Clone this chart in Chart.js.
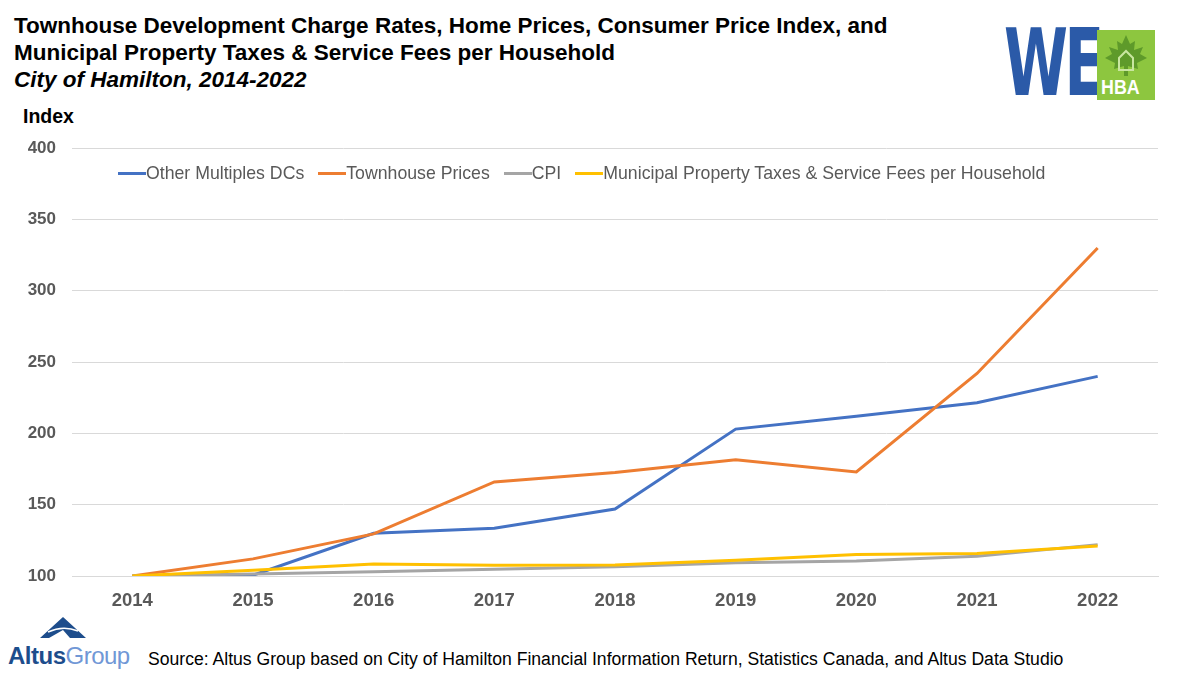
<!DOCTYPE html>
<html>
<head>
<meta charset="utf-8">
<script src="https://cdn.jsdelivr.net/npm/chart.js"></script>
<style>
    body { margin: 0; width: 1200px; height: 678px; background: #fff; font-family: "Liberation Sans", Arial, sans-serif; position: relative; overflow: hidden; }
    .title { position: absolute; left: 14px; top: 12px; font-size: 22.5px; font-weight: bold; line-height: 27px; color: #000; }
    .title i { font-weight: bold; }
    .unit { position: absolute; left: 23px; top: 105px; font-size: 19.5px; font-weight: bold; color: #000; }
    #chartWrap { position: absolute; left: 0; top: 122px; width: 1200px; height: 494px; }
    #legend { position: absolute; left: 118px; top: 163px; display: flex; font-size: 17.7px; color: #595959; }
    #legend .item { display: flex; align-items: center; margin-right: 14px; }
    #legend .mark { width: 28px; height: 3px; }
    .source { position: absolute; left: 148px; top: 649px; font-size: 17.6px; color: #000; }
    .we { position: absolute; left: 1004px; top: 18px; font-size: 92px; font-weight: 900; color: #2b5aa8; transform: scaleX(0.7); transform-origin: left top; letter-spacing: -5px; line-height: 92px; font-family: "DejaVu Sans Condensed", "Liberation Sans", sans-serif; }
    .hba { position: absolute; left: 1097px; top: 30px; width: 58px; height: 70px; background: #8dc63f; }
    .hba span { position: absolute; left: 4px; bottom: 1px; font-size: 21px; font-weight: bold; color: #fff; transform: scaleX(0.85); transform-origin: left bottom; }
    .altus { position: absolute; left: 8px; top: 642px; font-size: 24px; font-weight: bold; color: #1d4d8c; letter-spacing: -0.5px; }
    .altus span { color: #7097d6; font-weight: normal; }
</style>
</head>
<body>
<div class="title">Townhouse Development Charge Rates, Home Prices, Consumer Price Index, and<br>Municipal Property Taxes &amp; Service Fees per Household<br><i>City of Hamilton, 2014-2022</i></div>
<div class="unit">Index</div>

<div class="we">WE</div>
<div class="hba">
    <svg width="58" height="46" viewBox="0 0 58 46" style="position:absolute;left:0;top:2px">
        <path d="M29 3 L33 12 L38 9 L37 18 L46 15 L43 22 L50 26 L40 31 L41 37 L31 34 L31 44 L27 44 L27 34 L17 37 L18 31 L8 26 L15 22 L12 15 L21 18 L20 9 L25 12 Z" fill="#5e9a2a"/>
        <path d="M22 38 L22 26 L29 19 L36 26 L36 38 Z" fill="none" stroke="#c9e6a0" stroke-width="2"/>
    </svg>
    <span>HBA</span>
</div>

<div id="chartWrap"><canvas id="lineChart"></canvas></div>
<div id="legend"></div>

<svg style="position:absolute;left:40px;top:617px" width="46" height="22" viewBox="0 0 46 22">
    <path d="M23 0 L46 21 L30 21 L23 13 L9 21 L0 21 Z" fill="#1d4d8c"/>
    <path d="M8 15 Q23 8 38 14" stroke="#fff" stroke-width="1.5" fill="none"/>
</svg>
<div class="altus">Altus<span>Group</span></div>
<div class="source">Source: Altus Group based on City of Hamilton Financial Information Return, Statistics Canada, and Altus Data Studio</div>

<script>
// Index values (2014 = 100)
const years = ['2014', '2015', '2016', '2017', '2018', '2019', '2020', '2021', '2022'];
const otherMultiplesDCs = [100, 100.5, 130, 133.5, 147, 203, 212, 221.5, 240];
const townhousePrices = [100, 112, 129.5, 166, 172.5, 181.5, 173, 242, 330];
const cpi = [100, 101.4, 103, 104.7, 106.5, 109.3, 110.5, 113.8, 122];
const municipalTaxesFees = [100, 104, 108.4, 107.5, 107.7, 111, 115, 115.8, 121];

const seriesNames = ['Other Multiples DCs', 'Townhouse Prices', 'CPI', 'Municipal Property Taxes & Service Fees per Household'];
const seriesColors = ['#4472c4', '#ed7d31', '#a5a5a5', '#ffc000'];
const seriesValues = [otherMultiplesDCs, townhousePrices, cpi, municipalTaxesFees];

// HTML legend (sits inside the plot area, like the original)
const legendEl = document.getElementById('legend');
seriesNames.forEach(function(name, i) {
    const item = document.createElement('div');
    item.className = 'item';
    const mark = document.createElement('div');
    mark.className = 'mark';
    mark.style.background = seriesColors[i];
    const label = document.createElement('span');
    label.textContent = name;
    item.appendChild(mark);
    item.appendChild(label);
    legendEl.appendChild(item);
});

const datasets = seriesNames.map(function(name, i) {
    return {
        label: name,
        data: seriesValues[i],
        borderColor: seriesColors[i],
        backgroundColor: seriesColors[i],
        borderWidth: 3,
        pointRadius: 0,
        tension: 0,
        fill: false,
        order: seriesNames.length - i   // later series drawn on top
    };
});

const ctx = document.getElementById('lineChart').getContext('2d');
new Chart(ctx, {
    type: 'line',
    data: { labels: years, datasets: datasets },
    options: {
        responsive: true,
        maintainAspectRatio: false,
        animation: false,
        layout: { padding: { top: 10, right: 42, bottom: 0, left: 0 } },
        scales: {
            x: {
                offset: true,
                grid: { display: false, drawTicks: false },
                border: { color: '#d9d9d9', width: 1 },
                ticks: {
                    color: '#595959',
                    font: { family: 'Liberation Sans', size: 18.5, weight: 'bold' },
                    padding: 14
                },
                afterFit: function(scale) { scale.height = 40; }
            },
            y: {
                min: 100,
                max: 400,
                grid: { color: '#d9d9d9', drawTicks: false },
                border: { display: false },
                ticks: {
                    stepSize: 50,
                    color: '#595959',
                    font: { family: 'Liberation Sans', size: 17, weight: 'bold' },
                    padding: 16
                },
                afterFit: function(scale) { scale.width = 72; }
            }
        },
        plugins: {
            legend: { display: false },
            tooltip: { enabled: false }
        }
    }
});
</script>
</body>
</html>
